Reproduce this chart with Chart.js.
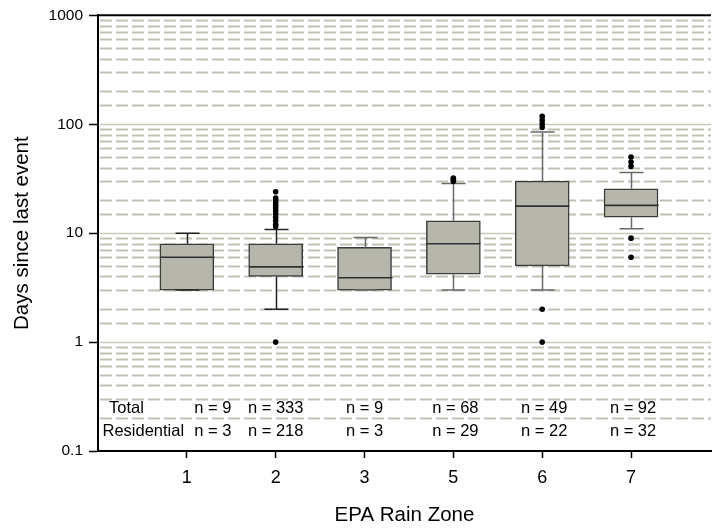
<!DOCTYPE html>
<html><head><meta charset="utf-8">
<script src="https://cdn.jsdelivr.net/npm/chart.js@4.4.1/dist/chart.umd.min.js"></script>
<style>html,body{margin:0;padding:0;background:#fff;}canvas{display:block;}</style>
</head><body>
<canvas id="c" width="715" height="529"></canvas>
<script>
// ---- data ----
const zones = ['1', '2', '3', '5', '6', '7'];
const q1 = [3, 4, 3, 4.2, 5, 14];
const medians = [6, 4.9, 3.9, 8, 17.7, 18];
const q3 = [8, 8, 7.4, 13, 30, 25.5];
const whiskerLow = [3, 2, 3, 3, 3, 11];
const whiskerHigh = [10, 10.8, 9.1, 28.5, 85, 36];
const outliers = [
  [],
  [24, 21, 20, 19, 18, 17, 16, 15, 14, 13, 12, 11.5, 1],
  [],
  [30, 31, 32],
  [94, 101, 109, 118, 2, 1],
  [41, 45, 50, 9, 6]
];
const totalN = [9, 333, 9, 68, 49, 92];
const residentialN = [3, 218, 3, 29, 22, 32];
const rowLabels = ['Total', 'Residential'];
const yTickLabels = ['0.1', '1', '10', '100', '1000'];

// ---- styles ----
const FONT = "'Liberation Sans', Arial, Helvetica, sans-serif";
const whiskerColors = ['#222', '#222', '#6a6a6a', '#6a6a6a', '#6a6a6a', '#6a6a6a'];
const nLabelShift = [26, 0, 0, 2, 2, 2];

function isDecade(v) {
  if (!(v > 0)) return false;
  const lg = Math.log10(v);
  return Math.abs(lg - Math.round(lg)) < 1e-6;
}

const boxParts = {
  id: 'boxParts',
  beforeDatasetsDraw(chart) {
    const { ctx, chartArea: a, scales: { y } } = chart;
    ctx.save();
    y.ticks.forEach(t => {
      const v = t.value;
      if (v <= y.min * 1.0001 || v >= y.max * 0.9999) return;
      const py = Math.round(y.getPixelForValue(v)) + 0.5;
      const major = isDecade(v);
      ctx.beginPath();
      ctx.setLineDash(major ? [] : [12, 4]);
      ctx.lineWidth = major ? 1.5 : 2;
      ctx.strokeStyle = major ? '#c8c8bc' : '#c2c2b4';
      ctx.moveTo(a.left + 2, py);
      ctx.lineTo(a.right, py);
      ctx.stroke();
    });
    ctx.restore();
  },
  afterDatasetDraw(chart, args) {
    if (args.index !== 0) return;
    const { ctx, scales: { x, y } } = chart;
    ctx.save();
    zones.forEach((z, i) => {
      const px = Math.round(x.getPixelForValue(i + 1)) + 0.5;
      const yq1 = y.getPixelForValue(q1[i]);
      const yq3 = y.getPixelForValue(q3[i]);
      const ylo = y.getPixelForValue(whiskerLow[i]);
      const yhi = y.getPixelForValue(whiskerHigh[i]);
      const ym = y.getPixelForValue(medians[i]);
      ctx.strokeStyle = whiskerColors[i];
      ctx.lineWidth = 1.5;
      ctx.beginPath();
      ctx.moveTo(px, yq3); ctx.lineTo(px, yhi);
      ctx.moveTo(px - 12, yhi); ctx.lineTo(px + 12, yhi);
      ctx.moveTo(px, yq1); ctx.lineTo(px, ylo);
      ctx.moveTo(px - 12, ylo); ctx.lineTo(px + 12, ylo);
      ctx.stroke();
      ctx.strokeStyle = '#303030';
      ctx.lineWidth = 1.6;
      ctx.beginPath();
      ctx.moveTo(px - 27, ym); ctx.lineTo(px + 27, ym);
      ctx.stroke();
    });
    ctx.restore();
  },
  afterDraw(chart) {
    const { ctx, chartArea: a, scales: { x } } = chart;
    ctx.save();
    // top frame line
    ctx.strokeStyle = '#000';
    ctx.lineWidth = 2;
    ctx.beginPath();
    ctx.moveTo(a.left - 1, a.top);
    ctx.lineTo(a.right, a.top);
    ctx.stroke();
    // n labels
    ctx.fillStyle = '#000';
    ctx.font = '16.5px ' + FONT;
    ctx.textBaseline = 'middle';
    ctx.textAlign = 'left';
    const rowTotal = a.bottom - 43, rowRes = a.bottom - 20;
    ctx.fillText(rowLabels[0], a.left + 11, rowTotal);
    ctx.fillText(rowLabels[1], a.left + 4.5, rowRes);
    ctx.textAlign = 'center';
    zones.forEach((z, i) => {
      const px = x.getPixelForValue(i + 1) + nLabelShift[i];
      ctx.fillText('n = ' + totalN[i], px, rowTotal);
      ctx.fillText('n = ' + residentialN[i], px, rowRes);
    });
    ctx.restore();
  }
};

const boxData = zones.map((z, i) => ({ x: i + 1, y: [q1[i], q3[i]] }));
const outlierData = [];
outliers.forEach((arr, i) => arr.forEach(v => outlierData.push({ x: i + 1, y: v })));

new Chart(document.getElementById('c'), {
  type: 'bar',
  data: {
    datasets: [
      {
        type: 'bar',
        label: 'IQR',
        data: boxData,
        backgroundColor: '#b6b6aa',
        borderColor: '#3c3c3c',
        borderWidth: 1.5,
        borderSkipped: false,
        barThickness: 54,
        order: 2
      },
      {
        type: 'scatter',
        label: 'Outliers',
        data: outlierData,
        backgroundColor: '#000',
        borderColor: '#000',
        borderWidth: 0,
        pointRadius: 2.8,
        order: 0
      }
    ]
  },
  options: {
    responsive: false,
    devicePixelRatio: 1,
    animation: false,
    layout: { padding: { top: 14, right: 1, left: 0, bottom: 0 } },
    plugins: { legend: { display: false }, tooltip: { enabled: false } },
    scales: {
      x: {
        type: 'linear',
        min: 0,
        max: 6.9,
        offset: false,
        afterBuildTicks: s => { s.ticks = zones.map((z, i) => ({ value: i + 1 })); },
        afterFit: s => { s.height = 78; },
        ticks: {
          autoSkip: false,
          maxRotation: 0,
          callback: (v, i) => zones[i],
          font: { family: FONT, size: 18 },
          color: '#000',
          padding: 9
        },
        grid: { offset: false, drawOnChartArea: false, drawTicks: true, tickLength: 7, tickColor: '#000', tickWidth: 1.5 },
        border: { display: true, color: '#000', width: 2 },
        title: { display: true, text: 'EPA Rain Zone', color: '#000', font: { family: FONT, size: 20.5, lineHeight: 1 }, padding: { top: 0, bottom: 3 } }
      },
      y: {
        type: 'logarithmic',
        min: 0.1,
        max: 1000,
        afterFit: s => { s.width = 98; },
        ticks: {
          autoSkip: false,
          callback: v => isDecade(v) ? yTickLabels[Math.round(Math.log10(v)) + 1] : '',
          font: { family: FONT, size: 15.5 },
          color: '#000',
          padding: 6
        },
        grid: {
          drawOnChartArea: false,
          drawTicks: true,
          tickLength: 9,
          tickWidth: 1.5,
          tickColor: c => (c.tick && isDecade(c.tick.value)) ? '#000' : 'rgba(0,0,0,0)'
        },
        border: { display: true, color: '#000', width: 2 },
        title: { display: true, text: 'Days since last event', color: '#000', font: { family: FONT, size: 20.5, lineHeight: 1 }, padding: { top: 12, bottom: 0 } }
      }
    }
  },
  plugins: [boxParts]
});
</script>
</body></html>
